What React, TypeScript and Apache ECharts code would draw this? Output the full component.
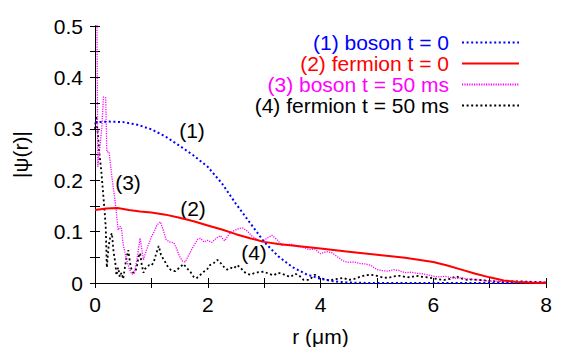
import React, { useEffect, useRef } from "react";
import * as echarts from "echarts";

// ---- data ----
const seriesNames = [
  "(1) boson t = 0",
  "(2) fermion t = 0",
  "(3) boson t = 50 ms",
  "(4) fermion t = 50 ms",
];
const seriesColors = ["#0000ff", "#ff0000", "#ff00ff", "#000000"];

const bosonT0R = [0, 0.25, 0.5, 0.75, 1.0, 1.25, 1.5, 1.75, 2.0, 2.25, 2.5, 2.75, 3.0, 3.25, 3.5, 3.75, 4.0, 4.25, 4.5, 4.75, 5.0, 6.0, 7.0, 8.0];
const bosonT0V = [0.313, 0.314, 0.313, 0.308, 0.299, 0.285, 0.267, 0.248, 0.226, 0.194, 0.154, 0.117, 0.08, 0.052, 0.031, 0.017, 0.008, 0.003, 0.001, 0.0003, 0, 0, 0, 0];

const fermionT0R = [0, 0.2, 0.4, 0.6, 0.8, 1.0, 1.25, 1.5, 1.75, 2.0, 2.25, 2.5, 2.75, 3.0, 3.25, 3.5, 4.0, 4.5, 5.0, 5.5, 6.0, 6.25, 6.5, 6.75, 7.0, 7.25, 7.5, 7.75, 8.0];
const fermionT0V = [0.142, 0.145, 0.146, 0.142, 0.139, 0.137, 0.133, 0.127, 0.12, 0.112, 0.104, 0.095, 0.087, 0.08, 0.076, 0.073, 0.067, 0.061, 0.055, 0.049, 0.041, 0.034, 0.026, 0.018, 0.011, 0.005, 0.002, 0.0005, 0];

const bosonT50R = [0, 0.035, 0.05, 0.12, 0.15, 0.19, 0.21, 0.25, 0.3, 0.35, 0.38, 0.41, 0.45, 0.47, 0.5, 0.55, 0.6, 0.65, 0.7, 0.75, 0.8, 0.86, 0.9, 0.95, 1.0, 1.05, 1.1, 1.16, 1.21, 1.26, 1.32, 1.4, 1.45, 1.5, 1.55, 1.6, 1.68, 1.75, 1.82, 1.87, 1.93, 2.0, 2.07, 2.15, 2.22, 2.3, 2.37, 2.45, 2.55, 2.62, 2.7, 2.78, 2.86, 2.96, 3.05, 3.14, 3.23, 3.32, 3.42, 3.5, 3.6, 3.7, 3.8, 3.9, 4.0, 4.1, 4.2, 4.3, 4.4, 4.5, 4.6, 4.7, 4.8, 4.9, 5.0, 5.1, 5.2, 5.3, 5.4, 5.5, 5.6, 5.7, 5.8, 5.9, 6.0, 6.1, 6.2, 6.3, 6.4, 6.5, 6.6, 6.7, 6.8, 6.9, 7.0, 7.2, 7.4, 7.6, 7.8, 8.0];
const bosonT50V = [0.6, 0.5, 0.226, 0.3, 0.362, 0.36, 0.255, 0.255, 0.206, 0.165, 0.136, 0.103, 0.11, 0.105, 0.075, 0.05, 0.03, 0.017, 0.019, 0.05, 0.087, 0.045, 0.06, 0.075, 0.09, 0.1, 0.113, 0.119, 0.103, 0.085, 0.08, 0.078, 0.066, 0.052, 0.043, 0.041, 0.058, 0.072, 0.085, 0.087, 0.08, 0.083, 0.079, 0.087, 0.092, 0.082, 0.094, 0.101, 0.106, 0.107, 0.101, 0.092, 0.086, 0.08, 0.087, 0.093, 0.084, 0.073, 0.075, 0.075, 0.071, 0.069, 0.065, 0.066, 0.057, 0.061, 0.059, 0.051, 0.043, 0.04, 0.041, 0.038, 0.037, 0.034, 0.026, 0.024, 0.023, 0.026, 0.024, 0.02, 0.021, 0.019, 0.018, 0.016, 0.013, 0.012, 0.013, 0.011, 0.009, 0.01, 0.008, 0.007, 0.006, 0.005, 0.004, 0.003, 0.002, 0.002, 0.002, 0.002];

const fermionT50R = [0, 0.02, 0.05, 0.08, 0.11, 0.14, 0.17, 0.19, 0.21, 0.24, 0.27, 0.3, 0.33, 0.36, 0.38, 0.41, 0.44, 0.47, 0.5, 0.53, 0.56, 0.59, 0.62, 0.65, 0.68, 0.71, 0.74, 0.77, 0.8, 0.83, 0.86, 0.89, 0.92, 0.96, 1.0, 1.04, 1.08, 1.13, 1.17, 1.21, 1.25, 1.3, 1.35, 1.42, 1.5, 1.57, 1.62, 1.69, 1.75, 1.8, 1.87, 1.93, 1.98, 2.04, 2.1, 2.17, 2.22, 2.28, 2.34, 2.4, 2.46, 2.52, 2.58, 2.64, 2.7, 2.76, 2.82, 2.9, 3.0, 3.08, 3.17, 3.25, 3.32, 3.4, 3.47, 3.55, 3.62, 3.7, 3.8, 3.9, 4.0, 4.1, 4.2, 4.3, 4.4, 4.5, 4.6, 4.7, 4.8, 4.9, 5.0, 5.1, 5.2, 5.3, 5.4, 5.5, 5.6, 5.7, 5.8, 5.9, 6.0, 6.1, 6.2, 6.3, 6.4, 6.5, 6.6, 6.7, 6.8, 6.9, 7.0, 7.1, 7.2, 7.4, 7.6, 7.8, 8.0];
const fermionT50V = [0.3, 0.325, 0.29, 0.25, 0.22, 0.18, 0.14, 0.11, 0.03, 0.07, 0.09, 0.097, 0.06, 0.04, 0.015, 0.03, 0.012, 0.02, 0.008, 0.03, 0.05, 0.064, 0.04, 0.025, 0.02, 0.022, 0.03, 0.05, 0.058, 0.035, 0.02, 0.028, 0.03, 0.035, 0.034, 0.04, 0.055, 0.072, 0.055, 0.047, 0.04, 0.03, 0.025, 0.023, 0.03, 0.037, 0.03, 0.022, 0.012, 0.009, 0.016, 0.022, 0.025, 0.035, 0.038, 0.045, 0.04, 0.032, 0.026, 0.03, 0.028, 0.035, 0.03, 0.022, 0.018, 0.016, 0.019, 0.021, 0.022, 0.018, 0.015, 0.02, 0.018, 0.014, 0.012, 0.018, 0.015, 0.006, 0.006, 0.016, 0.01, 0.006, 0.006, 0.008, 0.01, 0.006, 0.008, 0.012, 0.015, 0.016, 0.014, 0.011, 0.01, 0.013, 0.014, 0.012, 0.011, 0.014, 0.012, 0.011, 0.009, 0.007, 0.006, 0.008, 0.013, 0.009, 0.006, 0.007, 0.006, 0.005, 0.004, 0.003, 0.002, 0.003, 0.003, 0.002, 0.001];

const xTickLabels = ["0", "2", "4", "6", "8"];
const yTickLabels = ["0", "0.1", "0.2", "0.3", "0.4", "0.5"];
const curveLabels = ["(1)", "(2)", "(3)", "(4)"];

const zip = (r: number[], v: number[]) => r.map((x, i) => [x, v[i]]);

const FONT = "Liberation Sans, Arial, Helvetica, sans-serif";
const FS = 21;

export default function App() {
  const ref = useRef<HTMLDivElement>(null);
  useEffect(() => {
    if (!ref.current) return;
    const chart = echarts.init(ref.current, undefined, { renderer: "svg" });
    const axisCommon = {
      axisLine: { show: true, lineStyle: { color: "#000", width: 1 } },
      axisTick: { show: true, inside: true, length: 5, lineStyle: { color: "#000", width: 1 } },
      splitLine: { show: false },
    };
    const xFmt = (v: number) => {
      const s = String(Math.round(v));
      return Math.abs(v - Math.round(v)) < 1e-6 && xTickLabels.includes(s) ? s : "";
    };
    const yFmt = (v: number) => {
      const s = String(Math.round(v * 10) / 10);
      return Math.abs(v * 10 - Math.round(v * 10)) < 1e-6 && yTickLabels.includes(s) ? s : "";
    };
    const lineStyles = [
      { width: 2, type: [2, 2.6] },
      { width: 2, type: "solid" },
      { width: 1.3, type: [1.2, 1.2] },
      { width: 1.8, type: [2, 2.6] },
    ];
    const datasets = [
      zip(bosonT0R, bosonT0V),
      zip(fermionT0R, fermionT0V),
      zip(bosonT50R, bosonT50V),
      zip(fermionT50R, fermionT50V),
    ];
    const labelPos = [
      [192, 130],
      [193, 208],
      [128, 182],
      [254, 252],
    ];
    chart.setOption({
      animation: false,
      textStyle: { fontFamily: FONT },
      grid: { left: 95, right: 35, top: 26, bottom: 64, containLabel: false, outerBoundsMode: "none" },
      xAxis: [
        {
          type: "value",
          min: 0,
          max: 8,
          interval: 1,
          position: "bottom",
          ...axisCommon,
          axisLabel: { formatter: xFmt, fontSize: FS, color: "#000", margin: 11, fontFamily: FONT },
          name: "r (\u03bcm)",
          nameLocation: "middle",
          nameGap: 43,
          nameTextStyle: { fontSize: FS, color: "#000", fontFamily: FONT },
        },
        {
          type: "value",
          min: 0,
          max: 8,
          interval: 1,
          position: "top",
          ...axisCommon,
          axisLabel: { show: false },
        },
      ],
      yAxis: [
        {
          type: "value",
          min: 0,
          max: 0.5,
          interval: 0.05,
          position: "left",
          ...axisCommon,
          axisLabel: { formatter: yFmt, fontSize: FS, color: "#000", margin: 12, fontFamily: FONT },
          name: "|\u03c8(r)|",
          nameLocation: "middle",
          nameGap: 64,
          nameRotate: 90,
          nameTextStyle: { fontSize: FS, color: "#000", fontFamily: FONT },
        },
        {
          type: "value",
          min: 0,
          max: 0.5,
          interval: 0.05,
          position: "right",
          ...axisCommon,
          axisLabel: { show: false },
        },
      ],
      legend: {
        orient: "vertical",
        align: "right",
        right: 61,
        top: 32,
        padding: 0,
        itemGap: 0,
        itemWidth: 57,
        itemHeight: 14,
        itemStyle: { opacity: 0 },
        data: seriesNames.map((n, i) => ({
          name: n,
          textStyle: { color: seriesColors[i], fontSize: FS, lineHeight: 21, fontFamily: FONT, padding: [0, 8, 0, 0] },
        })),
      },
      series: seriesNames.map((n, i) => ({
        name: n,
        type: "line",
        data: datasets[i],
        showSymbol: false,
        symbol: "none",
        clip: true,
        z: [3, 4, 2, 1][i],
        lineStyle: { color: seriesColors[i], ...lineStyles[i] },
        itemStyle: { color: seriesColors[i] },
      })),
      graphic: curveLabels.map((t, i) => ({
        type: "text",
        x: labelPos[i][0],
        y: labelPos[i][1],
        style: {
          text: t,
          fontSize: FS,
          fontFamily: FONT,
          fill: "#000",
          align: "center",
          verticalAlign: "middle",
        },
      })),
    });
    return () => chart.dispose();
  }, []);
  return <div ref={ref} style={{ width: 581, height: 347, position: "absolute", left: 0, top: 0 }} />;
}
